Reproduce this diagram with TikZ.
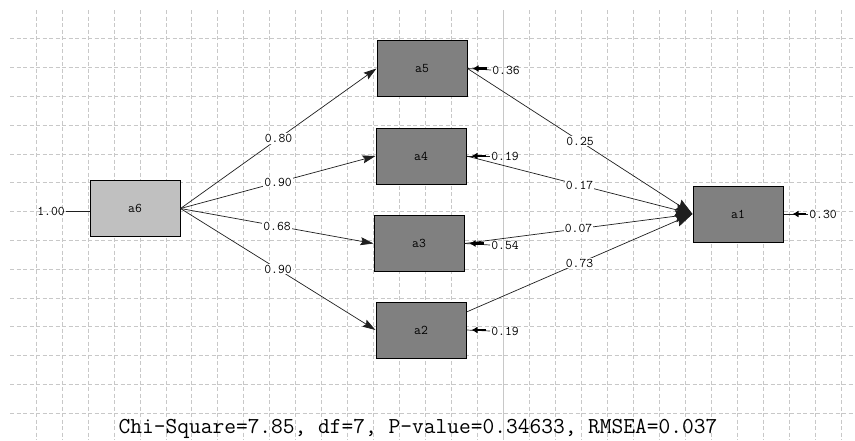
\documentclass[tikz,border=0pt]{standalone}
\usepackage{fontspec}
\usetikzlibrary{arrows.meta,calc}
\definecolor{gridc}{HTML}{C8C8C8}
\definecolor{boxc}{HTML}{808080}
\definecolor{boxl}{HTML}{C0C0C0}
\newcommand{\lfont}{\ttfamily\fontsize{13.3}{15}\selectfont}
\begin{document}
\begin{tikzpicture}[x=1pt,y=-1pt,
  gridline/.style={draw=gridc, line width=0.6pt, dash pattern=on 4pt off 2.5pt},
  obs/.style={draw=black, line width=1pt, fill=boxc, minimum width=90pt, minimum height=56pt, inner sep=0pt, font=\lfont},
  lab/.style={fill=white, inner sep=1pt, font=\lfont},
  rlab/.style={inner sep=1pt, font=\lfont},
  pathA/.style={draw=black!88, line width=0.7pt, -{Stealth[length=13pt,width=8pt,inset=2pt]}},
  pathB/.style={draw=black!88, line width=0.7pt, -{Stealth[length=17pt,width=12pt,inset=2pt]}},
  thinl/.style={draw=black!88, line width=0.7pt},
  resid/.style={draw=black, line width=2.5pt, -{Latex[length=6pt,width=7pt]}}
]
\useasboundingbox (0,0) rectangle (855,440);
\fill[white] (0,0) rectangle (855,440);
% grid
\foreach \k in {1,...,32} \draw[gridline] ({10+25.97*\k},10) -- ({10+25.97*\k},440);
\foreach \j in {1,...,14} \draw[gridline] (10,{10+28.78*\j}) -- (855,{10+28.78*\j});
\draw[gridc, line width=0.6pt] (503.4,10) -- (503.4,440);
% boxes
\node[obs] (a5) at (422,68.5) {a5};
\node[obs] (a4) at (421,156) {a4};
\node[obs] (a3) at (419,243.5) {a3};
\node[obs] (a2) at (421,330) {a2};
\node[obs, fill=boxl] (a6) at (135,208.5) {a6};
\node[obs] (a1) at (738,214) {a1};
% paths from a6
\draw[pathA] (a6.east) -- node[lab] {0.80} (a5.west);
\draw[pathA] (a6.east) -- node[lab] {0.90} (a4.west);
\draw[pathA] (a6.east) -- node[lab] {0.68} (a3.west);
\draw[pathA] (a6.east) -- node[lab] {0.90} (a2.west);
% paths to a1
\draw[pathB] (a5.east) -- node[lab] {0.25} (a1.west);
\draw[pathB] (a4.east) -- node[lab] {0.17} (a1.west);
\draw[pathB] (a3.east) -- node[lab] {0.07} (a1.west);
\draw[pathB] ([yshift=18pt]a2.east) -- node[lab] {0.73} (a1.west);
% residuals
\node[rlab] (r5) at (506,70) {0.36};
\node[rlab] (r4) at (505,156) {0.19};
\node[rlab] (r3) at (505,245) {0.54};
\node[rlab] (r2) at (505,331) {0.19};
\node[rlab] (r1) at (823,214) {0.30};
\node[rlab] (r6) at (51,211) {1.00};
\foreach \r/\b in {r5/a5, r4/a4, r3/a3, r2/a2} {
  \draw[thinl] (\r.west) -- (\b.east);
  \draw[resid] ([xshift=19pt]\b.east) -- ([xshift=5pt]\b.east);
}
\draw[thinl] (r1.west) -- (a1.east);
\draw[resid] ([xshift=22pt]a1.east) -- ([xshift=9pt]a1.east);
\draw[thinl] (r6.east) -- (a6.west |- r6.east);
% fit statistics
\node[inner sep=0pt, font=\ttfamily\fontsize{22.8}{26}\selectfont] (fit) at (418,429) {Chi-Square=7.85, df=7, P-value=0.34633, RMSEA=0.037};
\end{tikzpicture}
\end{document}
